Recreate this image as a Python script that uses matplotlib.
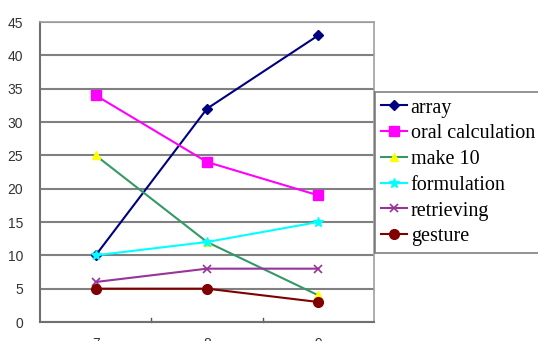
import matplotlib
matplotlib.use("Agg")
import matplotlib.pyplot as plt

categories = ["7", "8", "9"]
series_names = ["array", "oral calculation", "make 10", "formulation", "retrieving", "gesture"]
array_vals = [10, 32, 43]
oral_vals = [34, 24, 19]
make10_vals = [25, 12, 4]
formulation_vals = [10, 12, 15]
retrieving_vals = [6, 8, 8]
gesture_vals = [5, 5, 3]
y_ticks = [0, 5, 10, 15, 20, 25, 30, 35, 40, 45]

values = [array_vals, oral_vals, make10_vals, formulation_vals, retrieving_vals, gesture_vals]
styles = [
    dict(color="#000080", marker="D", ms=5.5, mfc="#000080", mec="#000080"),
    dict(color="#FF00FF", marker="s", ms=7, mfc="#FF00FF", mec="#FF00FF"),
    dict(color="#339966", marker="^", ms=6, mfc="#FFFF00", mec="#FFFF00"),
    dict(color="#00FFFF", marker="*", ms=7, mfc="#00FFFF", mec="#00FFFF"),
    dict(color="#993399", marker="x", ms=6, mfc="#993399", mec="#993399", mew=1.2),
    dict(color="#800000", marker="o", ms=7, mfc="#800000", mec="#800000"),
]

W, H = 538, 341
fig = plt.figure(figsize=(W / 100, H / 100), dpi=100)
ax = fig.add_axes([40 / W, (H - 322) / H, 334 / W, 300 / H])

x = list(range(1, len(categories) + 1))
lines = []
for name, vals, st in zip(series_names, values, styles):
    ln, = ax.plot(x, vals, lw=1.5, label=name, zorder=3, **st)
    lines.append(ln)

ax.set_xlim(0.5, len(categories) + 0.5)
ax.set_ylim(0, 45)
ax.set_yticks(y_ticks)
ax.set_yticklabels([str(v) for v in y_ticks], fontsize=10, color="#333333",
                   family="Liberation Sans")
ax.set_xticks(x)
ax.set_xticklabels(categories, fontsize=10, color="#333333", family="Liberation Sans")
ax.tick_params(axis="x", length=0, pad=11)
ax.tick_params(axis="y", length=0, pad=12)
# category separators on the x axis
for b in [1.5, 2.5]:
    ax.plot([b, b], [0, 0.6], color="#555555", lw=1, clip_on=False, zorder=2)

ax.yaxis.grid(True, color="#808080", lw=1.5)
ax.set_axisbelow(True)
for side in ["top", "right"]:
    ax.spines[side].set_color("#a0a0a0")
    ax.spines[side].set_linewidth(1.2)
for side in ["left", "bottom"]:
    ax.spines[side].set_color("#707070")
    ax.spines[side].set_linewidth(1.5)

leg = fig.legend(handles=lines, loc="upper left",
                 bbox_to_anchor=(375 / W, 1 - 92 / H),
                 prop={"family": "Liberation Serif", "size": 14.5},
                 frameon=True, fancybox=False, handlelength=1.25,
                 handletextpad=0.2, labelspacing=0.33, borderpad=0.32,
                 borderaxespad=0)
leg.get_frame().set_edgecolor("#606060")
leg.get_frame().set_linewidth(1.2)

fig.savefig("out.png", dpi=100)
